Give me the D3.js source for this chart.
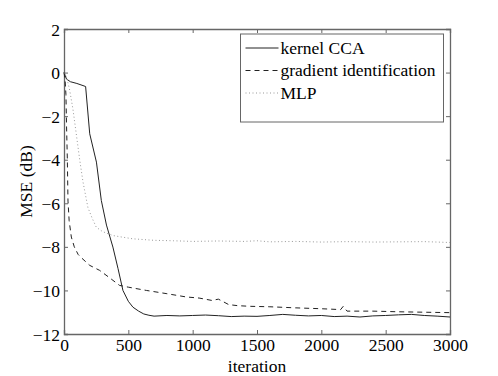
<!DOCTYPE html>
<html>
<head>
<meta charset="utf-8">
<script src="https://cdn.jsdelivr.net/npm/d3@7"></script>
<style>
  body { margin: 0; background: #fff; }
  svg text { font-family: "Liberation Serif", "DejaVu Serif", serif; }
</style>
</head>
<body>
<svg id="chart" width="498" height="376"></svg>
<script>
// Data
const kernelX = [0, 20, 50, 100, 168, 200, 252, 290, 330, 380, 420, 458, 500, 536, 580, 620, 660, 700, 800, 900, 1000, 1100, 1200, 1300, 1400, 1500, 1600, 1700, 1800, 1900, 2000, 2100, 2200, 2300, 2400, 2500, 2600, 2700, 2800, 2900, 3000];
const kernelY = [0, -0.3, -0.42, -0.5, -0.64, -2.81, -4.11, -5.87, -7.0, -8.01, -9.0, -10.0, -10.5, -10.77, -10.95, -11.08, -11.14, -11.18, -11.15, -11.17, -11.15, -11.13, -11.16, -11.2, -11.18, -11.19, -11.15, -11.1, -11.14, -11.17, -11.15, -11.2, -11.18, -11.22, -11.17, -11.15, -11.12, -11.1, -11.15, -11.18, -11.22];

const gradX = [0, 8, 15, 20, 26, 31, 40, 57, 80, 110, 135, 200, 277, 350, 432, 500, 640, 800, 950, 1050, 1150, 1200, 1280, 1350, 1450, 1600, 1800, 2000, 2150, 2170, 2200, 2400, 2600, 2800, 3000];
const gradY = [0, -0.3, -1.0, -2.5, -4.0, -5.9, -6.8, -7.55, -8.0, -8.35, -8.5, -8.85, -9.08, -9.4, -9.77, -9.85, -10.0, -10.15, -10.3, -10.35, -10.46, -10.4, -10.65, -10.7, -10.73, -10.75, -10.8, -10.84, -10.88, -10.73, -10.95, -10.95, -10.98, -11.0, -11.02];

const mlpX = [0, 20, 44, 70, 95, 122, 147, 186, 220, 251, 300, 380, 450, 534, 700, 850, 1000, 1200, 1400, 1500, 1600, 1800, 2000, 2200, 2400, 2600, 2800, 3000];
const mlpY = [0, -0.2, -0.8, -1.7, -2.8, -4.0, -5.0, -6.2, -6.7, -7.1, -7.3, -7.48, -7.55, -7.63, -7.7, -7.72, -7.75, -7.73, -7.75, -7.72, -7.77, -7.75, -7.78, -7.76, -7.78, -7.77, -7.76, -7.8];

const xTicks = [0, 500, 1000, 1500, 2000, 2500, 3000];
const yTicks = [2, 0, -2, -4, -6, -8, -10, -12];
const seriesNames = ["kernel CCA", "gradient identification", "MLP"];

const svg = d3.select("#chart");
const margin = { left: 64, right: 48, top: 29, bottom: 42 };
const width = 498 - margin.left - margin.right;
const height = 376 - margin.top - margin.bottom;

const x = d3.scaleLinear().domain([0, 3000]).range([0, width]);
const y = d3.scaleLinear().domain([-12, 2]).range([height, 0]);

const g = svg.append("g").attr("transform", `translate(${margin.left},${margin.top})`);

const axisColor = "#666";
const fs = 17.5;

// Axes with inward ticks on all four sides
const axB = g.append("g").attr("transform", `translate(0,${height})`)
  .call(d3.axisBottom(x).tickValues(xTicks).tickSize(-4).tickPadding(5).tickFormat(d3.format("d")));
const axT = g.append("g")
  .call(d3.axisTop(x).tickValues(xTicks).tickSize(-4).tickFormat(""));
const axL = g.append("g")
  .call(d3.axisLeft(y).tickValues(yTicks).tickSize(-4).tickPadding(4));
const axR = g.append("g").attr("transform", `translate(${width},0)`)
  .call(d3.axisRight(y).tickValues(yTicks).tickSize(-4).tickFormat(""));

[axB, axT, axL, axR].forEach(a => {
  a.select(".domain").attr("stroke", axisColor).attr("stroke-width", 1.3);
  a.selectAll(".tick line").attr("stroke", axisColor);
  a.selectAll("text").attr("font-size", fs).attr("fill", "#000")
    .attr("font-family", "Liberation Serif");
});
axL.selectAll("text").attr("dy", "0.35em");

// Series lines
const line = d3.line().x(d => x(d[0])).y(d => y(d[1]));
const series = [
  { name: seriesNames[0], pts: d3.zip(kernelX, kernelY), color: "#222", dash: null, w: 1 },
  { name: seriesNames[1], pts: d3.zip(gradX, gradY), color: "#222", dash: "5,4", w: 1 },
  { name: seriesNames[2], pts: d3.zip(mlpX, mlpY), color: "#999", dash: "1,2.5", w: 1 }
];

g.append("g").selectAll("path")
  .data(series)
  .join("path")
  .attr("d", d => line(d.pts))
  .attr("fill", "none")
  .attr("stroke", d => d.color)
  .attr("stroke-width", d => d.w)
  .attr("stroke-dasharray", d => d.dash);

// Legend
const lg = g.append("g").attr("transform", `translate(${240.5 - margin.left},${34 - margin.top})`);
lg.append("rect")
  .attr("width", 203).attr("height", 88)
  .attr("fill", "#fff").attr("stroke", axisColor).attr("stroke-width", 1);
const rows = lg.selectAll("g.row").data(series).join("g")
  .attr("class", "row")
  .attr("transform", (d, i) => `translate(0,${14 + i * 22.5})`);
rows.append("line")
  .attr("x1", 5).attr("x2", 38).attr("y1", 0).attr("y2", 0)
  .attr("stroke", d => d.color).attr("stroke-dasharray", d => d.dash);
rows.append("text")
  .attr("x", 40).attr("y", 0).attr("dy", "0.33em")
  .attr("font-size", fs).text(d => d.name);

// Axis labels
svg.append("text")
  .attr("x", margin.left + width / 2).attr("y", 372)
  .attr("text-anchor", "middle").attr("font-size", fs)
  .text("iteration");
svg.append("text")
  .attr("transform", `translate(32,${margin.top + height / 2}) rotate(-90)`)
  .attr("text-anchor", "middle").attr("font-size", fs)
  .text("MSE (dB)");
</script>
</body>
</html>
